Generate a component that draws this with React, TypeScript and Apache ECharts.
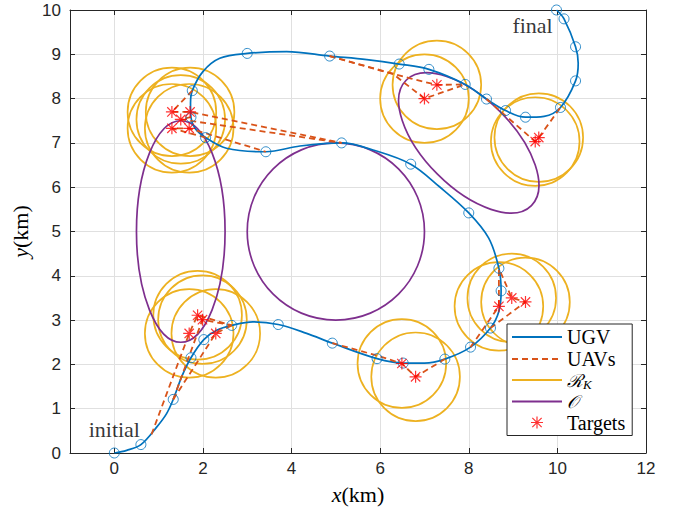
import React, { useEffect, useRef } from 'react';
import * as echarts from 'echarts';

// UGV trajectory (dense trace of the curve) and its stop markers
const ugvPath: number[][] = [
  [0, 0], [0.28, 0.06], [0.6, 0.19], [0.96, 0.59], [1.18, 0.89], [1.33, 1.21],
  [1.52, 1.72], [1.73, 2.15], [2.02, 2.56], [2.31, 2.77], [2.65, 2.88], [3.13, 2.96],
  [3.7, 2.9], [4.34, 2.7], [4.92, 2.48], [5.93, 2.13], [6.52, 2.03], [7.0, 2.03],
  [7.46, 2.12], [8.04, 2.39], [8.49, 2.82], [8.68, 3.2], [8.73, 3.66], [8.68, 4.17],
  [8.45, 4.85], [8.0, 5.42], [7.34, 6.01], [6.69, 6.52], [5.84, 6.84], [5.13, 7.0],
  [4.19, 6.93], [3.42, 6.8], [2.53, 6.88], [2.06, 7.12], [1.82, 7.33], [1.73, 7.58],
  [1.72, 7.9], [1.76, 8.18], [2.0, 8.61], [2.38, 8.91], [3.0, 9.02], [3.89, 9.06],
  [4.86, 8.96], [5.7, 8.88], [6.43, 8.78], [7.1, 8.66], [7.92, 8.32], [8.4, 7.99],
  [8.83, 7.73], [9.28, 7.58], [9.7, 7.6], [10.07, 7.8], [10.41, 8.4], [10.47, 8.8],
  [10.41, 9.17], [10.15, 9.8], [9.98, 10.0],
];

const ugvStops: number[][] = [
  [0, 0], [0.6, 0.19], [1.33, 1.21], [1.73, 2.15], [2.02, 2.56], [2.65, 2.88],
  [3.7, 2.9], [4.92, 2.48], [5.93, 2.13], [6.52, 2.03], [7.46, 2.12], [8.04, 2.39],
  [8.49, 2.82], [8.73, 3.66], [8.68, 4.17], [8.0, 5.42], [6.69, 6.52], [5.13, 7.0],
  [3.42, 6.8], [2.06, 7.12], [1.73, 7.58], [1.76, 8.18], [3.0, 9.02], [4.86, 8.96],
  [6.43, 8.78], [7.1, 8.66], [7.92, 8.32], [8.4, 7.99], [8.83, 7.73], [9.28, 7.58],
  [10.07, 7.8], [10.41, 8.4], [10.41, 9.17], [10.15, 9.8], [9.98, 10.0],
];

// UAV sorties: launch point on the UGV path, targets visited, recovery point
const uavPaths: number[][][] = [
  [[0.84, 0.42], [1.69, 2.7], [1.88, 3.11], [2.65, 2.88]],
  [[1.33, 1.21], [1.99, 3.01], [2.65, 2.88]],
  [[1.33, 1.21], [2.29, 2.7], [2.65, 2.88]],
  [[4.92, 2.48], [5.93, 2.2], [6.49, 2.02], [6.8, 1.72], [7.46, 2.12]],
  [[8.49, 2.82], [9.28, 3.41], [8.97, 3.5], [8.68, 4.17]],
  [[8.04, 2.39], [8.68, 3.31], [8.68, 4.17]],
  [[8.4, 7.99], [9.5, 7.03], [9.58, 7.12], [10.07, 7.8]],
  [[4.86, 8.96], [6.3, 8.55], [7.0, 8.0], [7.92, 8.32]],
  [[4.86, 8.96], [6.7, 8.45], [7.28, 8.31], [7.92, 8.32]],
  [[1.76, 8.18], [1.3, 7.7], [1.71, 7.7], [5.13, 7.0]],
  [[1.73, 7.58], [1.5, 7.53], [5.13, 7.0]],
  [[2.06, 7.12], [1.3, 7.33], [1.69, 7.33], [3.42, 6.8]],
];

const targets: number[][] = [
  [1.3, 7.7], [1.71, 7.7], [1.5, 7.53], [1.3, 7.33], [1.69, 7.33],
  [7.28, 8.31], [7.0, 8.0],
  [9.58, 7.12], [9.5, 7.03],
  [1.88, 3.11], [1.99, 3.01], [1.69, 2.7], [2.29, 2.7],
  [6.49, 2.02], [6.8, 1.72],
  [8.97, 3.5], [9.28, 3.41], [8.68, 3.31],
];

const rkRadius = 1;

// obstacles: cx, cy, semi-axis a, semi-axis b, rotation (deg)
const obstacles: number[][] = [
  [1.5, 5.0, 1.0, 2.5, 0],
  [5.0, 5.0, 2.0, 2.0, 0],
  [8.0, 7.0, 2.0, 1.0, -45],
];

const annotations: (number | string)[][] = [
  [0.0, 0.52, 'initial'],
  [9.44, 9.64, 'final'],
];

const xTicks = [0, 2, 4, 6, 8, 10, 12];

const C_UGV = '#0072BD';
const C_UAV = '#D95319';
const C_RK = '#EDB120';
const C_OBS = '#7E2F8E';
const C_TGT = '#FF0000';
const AX = '#262626';
const SERIF = '"Liberation Serif", "DejaVu Serif", serif';
const SANS = '"Liberation Sans", Arial, sans-serif';

const starPath =
  'path://M0,9 L20,9 L20,11 L0,11 Z M9,0 L11,0 L11,20 L9,20 Z ' +
  'M1.5,2.9 L2.9,1.5 L18.5,17.1 L17.1,18.5 Z M17.1,1.5 L18.5,2.9 L2.9,18.5 L1.5,17.1 Z';

export default function App() {
  const ref = useRef<HTMLDivElement>(null);

  useEffect(() => {
    if (!ref.current) return;
    const chart = echarts.init(ref.current, null, { renderer: 'svg' });

    const axisLineStyle = { color: AX, width: 1 };

    const rkData = targets.map((t) => [t[0], t[1], rkRadius]);

    const series: any[] = [
      {
        name: 'UGV',
        type: 'line',
        data: ugvPath,
        smooth: 0.35,
        symbol: 'none',
        showSymbol: false,
        lineStyle: { color: C_UGV, width: 1.7 },
        itemStyle: { color: C_UGV },
        z: 3,
      },
      {
        name: 'UGV stops',
        type: 'scatter',
        data: ugvStops,
        symbol: 'circle',
        symbolSize: 10,
        clip: false,
        itemStyle: { color: 'rgba(0,0,0,0)', borderColor: C_UGV, borderWidth: 1 },
        z: 4,
      },
      ...uavPaths.map((p) => ({
        name: 'UAVs',
        type: 'line',
        data: p,
        symbol: 'none',
        showSymbol: false,
        lineStyle: { color: C_UAV, width: 1.8, type: [6, 4] },
        itemStyle: { color: C_UAV },
        z: 3,
      })),
      {
        name: 'RK',
        type: 'line',
        data: [],
        symbol: 'none',
        lineStyle: { color: C_RK, width: 1.7 },
        itemStyle: { color: C_RK },
      },
      {
        name: 'RK',
        type: 'custom',
        coordinateSystem: 'cartesian2d',
        data: rkData,
        encode: { x: 0, y: 1 },
        clip: false,
        silent: true,
        z: 2,
        renderItem: (params: any, api: any) => {
          const c = api.coord([api.value(0), api.value(1)]);
          const s = api.size([api.value(2), api.value(2)]);
          return {
            type: 'ellipse',
            shape: { cx: c[0], cy: c[1], rx: s[0], ry: s[1] },
            style: { fill: 'none', stroke: C_RK, lineWidth: 1.7 },
          };
        },
      },
      {
        name: 'O',
        type: 'line',
        data: [],
        symbol: 'none',
        lineStyle: { color: C_OBS, width: 1.7 },
        itemStyle: { color: C_OBS },
      },
      {
        name: 'O',
        type: 'custom',
        coordinateSystem: 'cartesian2d',
        data: obstacles,
        encode: { x: 0, y: 1 },
        clip: false,
        silent: true,
        z: 2,
        renderItem: (params: any, api: any) => {
          const c = api.coord([api.value(0), api.value(1)]);
          const s = api.size([api.value(2), api.value(3)]);
          return {
            type: 'ellipse',
            x: c[0],
            y: c[1],
            rotation: (api.value(4) * Math.PI) / 180,
            shape: { cx: 0, cy: 0, rx: s[0], ry: s[1] },
            style: { fill: 'none', stroke: C_OBS, lineWidth: 1.7 },
          };
        },
      },
      {
        name: 'Targets',
        type: 'scatter',
        data: targets,
        symbol: starPath,
        symbolSize: 12,
        itemStyle: { color: C_TGT },
        z: 5,
      },
      {
        name: 'annot',
        type: 'scatter',
        data: annotations,
        symbolSize: 0,
        silent: true,
        label: {
          show: true,
          position: 'inside',
          formatter: (p: any) => p.data[2],
          fontFamily: SERIF,
          fontSize: 22,
          color: '#000',
        },
        z: 6,
      },
    ];

    const hideSym = { opacity: 0 };

    const nameStyle = {
      fontFamily: SERIF,
      fontSize: 22,
      color: '#000',
      rich: { i: { fontFamily: SERIF, fontStyle: 'italic', fontSize: 22, color: '#000' } },
    };

    const option: any = {
      animation: false,
      backgroundColor: '#fff',
      grid: { left: 70, right: 31, top: 10, bottom: 57, containLabel: false },
      xAxis: [
        {
          type: 'value',
          min: -1,
          max: 12,
          minInterval: 2,
          maxInterval: 2,
          position: 'bottom',
          axisLine: { show: true, onZero: false, lineStyle: axisLineStyle },
          axisTick: { show: true, inside: true, length: 5, lineStyle: axisLineStyle, customValues: xTicks },
          axisLabel: {
            customValues: xTicks,
            formatter: (v: number) => (v < 0 ? '' : String(v)),
            fontFamily: SANS,
            fontSize: 17,
            color: AX,
            margin: 7,
          },
          splitLine: { show: true, lineStyle: { color: '#e0e0e0', width: 1 } },
          name: '{i|x}(km)',
          nameLocation: 'middle',
          nameGap: 30,
          nameTextStyle: nameStyle,
        },
        {
          type: 'value',
          min: -1,
          max: 12,
          minInterval: 2,
          maxInterval: 2,
          position: 'top',
          axisLine: { show: true, onZero: false, lineStyle: axisLineStyle },
          axisTick: { show: true, inside: true, length: 5, lineStyle: axisLineStyle, customValues: xTicks },
          axisLabel: { show: false },
          splitLine: { show: false },
        },
      ],
      yAxis: [
        {
          type: 'value',
          min: 0,
          max: 10,
          interval: 1,
          position: 'left',
          axisLine: { show: true, onZero: false, lineStyle: axisLineStyle },
          axisTick: { show: true, inside: true, length: 5, lineStyle: axisLineStyle },
          axisLabel: { fontFamily: SANS, fontSize: 17, color: AX, margin: 9 },
          splitLine: { show: true, lineStyle: { color: '#e0e0e0', width: 1 } },
          name: '{i|y}(km)',
          nameLocation: 'middle',
          nameGap: 30,
          nameRotate: 90,
          nameTextStyle: nameStyle,
        },
        {
          type: 'value',
          min: 0,
          max: 10,
          interval: 1,
          position: 'right',
          axisLine: { show: true, onZero: false, lineStyle: axisLineStyle },
          axisTick: { show: true, inside: true, length: 5, lineStyle: axisLineStyle },
          axisLabel: { show: false },
          splitLine: { show: false },
        },
      ],
      legend: {
        data: [
          { name: 'UGV', itemStyle: hideSym },
          { name: 'UAVs', itemStyle: hideSym },
          { name: 'RK', itemStyle: hideSym },
          { name: 'O', itemStyle: hideSym },
          { name: 'Targets' },
        ],
        orient: 'vertical',
        left: 507,
        top: 324,
        itemWidth: 50,
        itemHeight: 12,
        itemGap: 2,
        padding: [3, 7, 3, 4],
        borderColor: AX,
        borderWidth: 1,
        backgroundColor: '#fff',
        selectedMode: false,
        textStyle: {
          fontFamily: SERIF,
          fontSize: 20,
          color: '#000',
          rich: {
            s: { fontFamily: '"DejaVu Serif", serif', fontStyle: 'italic', fontSize: 18, color: '#000' },
            sub: { fontFamily: SERIF, fontStyle: 'italic', fontSize: 13, color: '#000', verticalAlign: 'bottom', padding: [8, 0, 0, 0] },
          },
        },
        formatter: (name: string) => {
          if (name === 'RK') return '{s|ℛ}{sub|K}';
          if (name === 'O') return '{s|𝒪}';
          return name;
        },
      },
      series,
    };

    chart.setOption(option);
    return () => chart.dispose();
  }, []);

  return (
    <div
      ref={ref}
      style={{ position: 'fixed', left: 0, top: 0, width: 677, height: 510, background: '#fff' }}
    />
  );
}
